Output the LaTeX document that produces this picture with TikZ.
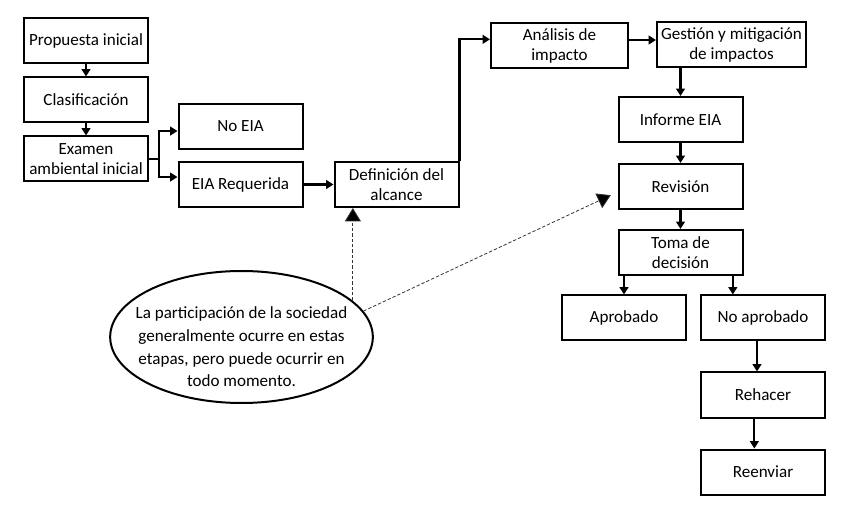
\documentclass[tikz,border=0pt]{standalone}
\usepackage{fontspec}
\setmainfont{Carlito}
\usetikzlibrary{positioning,shapes.geometric,arrows.meta}

\begin{document}
\begin{tikzpicture}[
        x=0.75pt, y=-0.75pt,
        font=\fontsize{12.8}{15}\selectfont,
        node distance=9pt,
        >={Triangle[width=6.5pt,length=5.5pt]},
        box/.style={draw, line width=1.5pt, minimum width=93pt, minimum height=33.75pt, inner sep=2.5pt, align=center},
        arrow/.style={->, line width=1.7pt},
        note/.style={draw, ellipse, line width=1.5pt, minimum width=197pt, minimum height=99pt, inner sep=0pt},
        notetext/.style={align=center, inner sep=0pt, font=\fontsize{12.8}{17}\selectfont},
        hint/.style={-{Triangle[width=12pt,length=10pt,fill=black]}, dash pattern=on 2.5pt off 1.5pt, line width=0.6pt, draw=black!80},
    ]
    \useasboundingbox (0,0) rectangle (850,513);

    % 左列
    \node[box] (prop) at (86,41) {Propuesta inicial};
    \node[box, below=of prop] (clas) {Clasificación};
    \node[box, below=of clas] (exam) {Examen\\ambiental inicial};

    % 分支
    \node[box] (noeia) at (240.5,126.5) {No EIA};
    \node[box] (eiareq) at (240.5,184.5) {EIA Requerida};
    \node[box, right=22.5pt of eiareq] (defin) {Definición del\\alcance};

    % 上方
    \node[box, minimum width=102.75pt] (anal) at (559.5,46) {Análisis de\\impacto};
    \node[box, minimum width=111.75pt] (gest) at (731.5,44.5) {Gestión y mitigación\\de impactos};

    % 右列
    \node[box] (inf) at (680.5,119.5) {Informe EIA};
    \node[box, below=15pt of inf] (rev) {Revisión};
    \node[box, below=14.25pt of rev] (toma) {Toma de\\decisión};
    \node[box] (apro) at (624,318) {Aprobado};
    \node[box] (noapro) at (763,318) {No aprobado};
    \node[box, below=22.5pt of noapro] (rehacer) {Rehacer};
    \node[box, below=22.5pt of rehacer] (reenv) {Reenviar};

    % 说明
    \node[note] (nota) at (241.5,337) {};
    \node[notetext] (notatxt) at ([yshift=-7.5pt]nota.center) {La participación de la sociedad\\generalmente ocurre en estas\\etapas, pero puede ocurrir en\\todo momento.};

    % 连接
    \draw[arrow] (prop) -- (clas);
    \draw[arrow] (clas) -- (exam);
    \coordinate[right=7.5pt of exam.east] (split);
    \draw[arrow] (exam.east) -- (split) |- ([yshift=-3.4pt]noeia.west);
    \draw[arrow] (split) |- ([yshift=5.6pt]eiareq.west);
    \draw[arrow] (eiareq) -- (defin);
    \draw[arrow] (defin.north east) |- ([yshift=5pt]anal.west);
    \draw[arrow] ([yshift=4.5pt]anal.east) -- ([yshift=4.5pt]anal.east -| gest.west);
    \draw[arrow] (gest.south -| inf.north) -- (inf);
    \draw[arrow] (inf) -- (rev);
    \draw[arrow] (rev) -- (toma);
    \draw[arrow] (toma.south -| apro.north) -- (apro);
    \draw[arrow] ([xshift=-8pt]toma.south east) -- ([xshift=-8pt]toma.south east |- noapro.north);
    \draw[arrow] ([xshift=-4.5pt]noapro.south) -- ([xshift=-4.5pt]rehacer.north);
    \draw[arrow] ([xshift=-6.5pt]rehacer.south) -- ([xshift=-6.5pt]reenv.north);

    % 虚线
    \draw[hint] (nota.18) -- (nota.18 |- defin.south);
    \draw[hint] (nota.12) -- ([xshift=-5pt,yshift=-6.5pt]rev.west);

\end{tikzpicture}
\end{document}
